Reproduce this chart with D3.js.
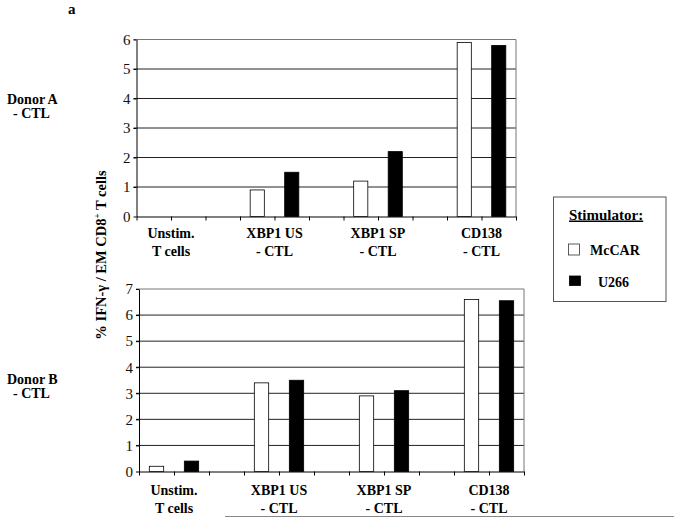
<!DOCTYPE html>
<html>
<head>
<meta charset="utf-8">
<script src="https://cdn.jsdelivr.net/npm/d3@7"></script>
<style>
  body { margin: 0; background: #fff; }
  svg { display: block; font-family: "Liberation Serif", "Times New Roman", serif; }
  .domain { stroke: #000; }
</style>
</head>
<body>
<div id="chart-area"></div>
<script>
// Data
const categories = [
    ["Unstim.", "T cells"],
    ["XBP1 US", "- CTL"],
    ["XBP1 SP", "- CTL"],
    ["CD138", "- CTL"],
];
const stimulators = ["McCAR", "U266"];
const donorA_McCAR = [0, 0.9, 1.2, 5.9];
const donorA_U266 = [0, 1.5, 2.2, 5.8];
const donorB_McCAR = [0.2, 3.4, 2.9, 6.6];
const donorB_U266 = [0.4, 3.5, 3.1, 6.55];
const donorA_ticks = [0, 1, 2, 3, 4, 5, 6];
const donorB_ticks = [0, 1, 2, 3, 4, 5, 6, 7];

const width = 674;
const height = 517;

const fills = { McCAR: "#fff", U266: "#000" };
const serif = "Liberation Serif, Times New Roman, serif";

const svg = d3
    .select("#chart-area")
    .append("svg")
    .attr("width", width)
    .attr("height", height);

// Panel letter
svg.append("text")
    .attr("x", 68)
    .attr("y", 14)
    .attr("font-size", "15px")
    .attr("font-weight", "bold")
    .text("a");

//Draw one donor panel
const drawPanel = (cfg) => {
    const { left, right, top, bottom, yMax, ticks, mccar, u266, donor, donorY, labelY } = cfg;
    const nSlots = categories.length * 3 - 1;
    const xScale = d3
        .scaleBand()
        .domain(d3.range(nSlots))
        .range([left, right])
        .paddingInner(0.59)
        .paddingOuter(0.295);
    const yScale = d3.scaleLinear().domain([0, yMax]).range([bottom, top]);

    const g = svg.append("g");

    // gridlines
    g.selectAll("line.grid")
        .data(ticks.filter((t) => t > 0))
        .enter()
        .append("line")
        .attr("class", "grid")
        .attr("x1", left - 3)
        .attr("x2", right)
        .attr("y1", (d) => yScale(d))
        .attr("y2", (d) => yScale(d))
        .attr("stroke", (d) => (d === yMax ? "#777" : "#222"))
        .attr("stroke-width", 1);

    // right border
    g.append("line")
        .attr("x1", right)
        .attr("x2", right)
        .attr("y1", top)
        .attr("y2", bottom)
        .attr("stroke", "#777");

    // y axis
    const yAxisCall = d3
        .axisLeft(yScale)
        .tickValues(ticks)
        .tickFormat(d3.format("d"))
        .tickSize(3)
        .tickPadding(3)
        .tickSizeOuter(0);
    const yAxis = g
        .append("g")
        .attr("transform", `translate(${left}, 0)`)
        .call(yAxisCall);
    yAxis.attr("font-family", serif).attr("font-size", "15px");
    yAxis.selectAll("text").attr("fill", "#111");

    // x axis with ticks at slot boundaries
    const slotScale = d3.scaleLinear().domain([0, nSlots]).range([left, right]);
    const xAxisCall = d3
        .axisBottom(slotScale)
        .tickValues(d3.range(nSlots + 1))
        .tickFormat("")
        .tickSize(4)
        .tickSizeOuter(0);
    g.append("g")
        .attr("transform", `translate(0, ${bottom})`)
        .call(xAxisCall);

    // bars
    const bars = [];
    categories.forEach((c, i) => {
        bars.push({ slot: i * 3, value: mccar[i], stim: "McCAR" });
        bars.push({ slot: i * 3 + 1, value: u266[i], stim: "U266" });
    });
    g.selectAll("rect.bar")
        .data(bars.filter((d) => d.value > 0))
        .enter()
        .append("rect")
        .attr("class", "bar")
        .attr("x", (d) => xScale(d.slot))
        .attr("width", xScale.bandwidth())
        .attr("y", (d) => yScale(d.value))
        .attr("height", (d) => bottom - yScale(d.value))
        .attr("fill", (d) => fills[d.stim])
        .attr("stroke", "#000")
        .attr("stroke-width", 0.8);

    // category labels
    categories.forEach((lines, i) => {
        const cx = slotScale(i * 3 + 1);
        lines.forEach((line, j) => {
            g.append("text")
                .attr("x", cx)
                .attr("y", labelY + j * 17.5)
                .attr("text-anchor", "middle")
                .attr("font-size", "14px")
                .attr("font-weight", "bold")
                .text(line);
        });
    });

    // donor label
    svg.append("text")
        .attr("x", 7)
        .attr("y", donorY)
        .attr("font-size", "14px")
        .attr("font-weight", "bold")
        .text(donor);
    svg.append("text")
        .attr("x", 13)
        .attr("y", donorY + 14.5)
        .attr("font-size", "14px")
        .attr("font-weight", "bold")
        .text("- CTL");
};

drawPanel({
    left: 136.5,
    right: 516,
    top: 39.5,
    bottom: 216.5,
    yMax: 6,
    ticks: donorA_ticks,
    mccar: donorA_McCAR,
    u266: donorA_U266,
    donor: "Donor A",
    donorY: 103.5,
    labelY: 238,
});

drawPanel({
    left: 139,
    right: 524,
    top: 289,
    bottom: 471.5,
    yMax: 7,
    ticks: donorB_ticks,
    mccar: donorB_McCAR,
    u266: donorB_U266,
    donor: "Donor B",
    donorY: 383.5,
    labelY: 495,
});

// Y label (shared)
const yLabel = svg
    .append("text")
    .attr("transform", "translate(105.5, 255) rotate(-90)")
    .attr("text-anchor", "middle")
    .attr("font-size", "14.5px")
    .attr("font-weight", "bold");
yLabel.append("tspan").text("% IFN-γ / EM CD8");
yLabel.append("tspan").attr("font-size", "9px").attr("dy", -6).text("+");
yLabel.append("tspan").attr("dy", 6).text(" T cells");

//Legend
const legend = svg.append("g").attr("class", "legend");
legend.append("rect")
    .attr("x", 553.5)
    .attr("y", 197)
    .attr("width", 112.5)
    .attr("height", 104.5)
    .attr("fill", "#fff")
    .attr("stroke", "#555");
legend.append("text")
    .attr("x", 569)
    .attr("y", 219.5)
    .attr("font-size", "15px")
    .attr("font-weight", "bold")
    .attr("text-decoration", "underline")
    .text("Stimulator:");

const legendRows = [
    { x: 568.5, y: 244, textX: 590, textY: 254.5 },
    { x: 569.5, y: 276, textX: 598, textY: 286.5 },
];
stimulators.forEach((stim, i) => {
    const r = legendRows[i];
    legend.append("rect")
        .attr("x", r.x)
        .attr("y", r.y)
        .attr("width", 11)
        .attr("height", i === 0 ? 11 : 9.5)
        .attr("fill", fills[stim])
        .attr("stroke", i === 0 ? "#333" : "#000")
        .attr("stroke-width", 0.8);
    legend.append("text")
        .attr("x", r.textX)
        .attr("y", r.textY)
        .attr("font-size", "14px")
        .attr("font-weight", "bold")
        .text(stim);
});

// scan edge line at the bottom
svg.append("line")
    .attr("x1", 225)
    .attr("x2", width)
    .attr("y1", 516.5)
    .attr("y2", 516.5)
    .attr("stroke", "#888");
</script>
</body>
</html>
